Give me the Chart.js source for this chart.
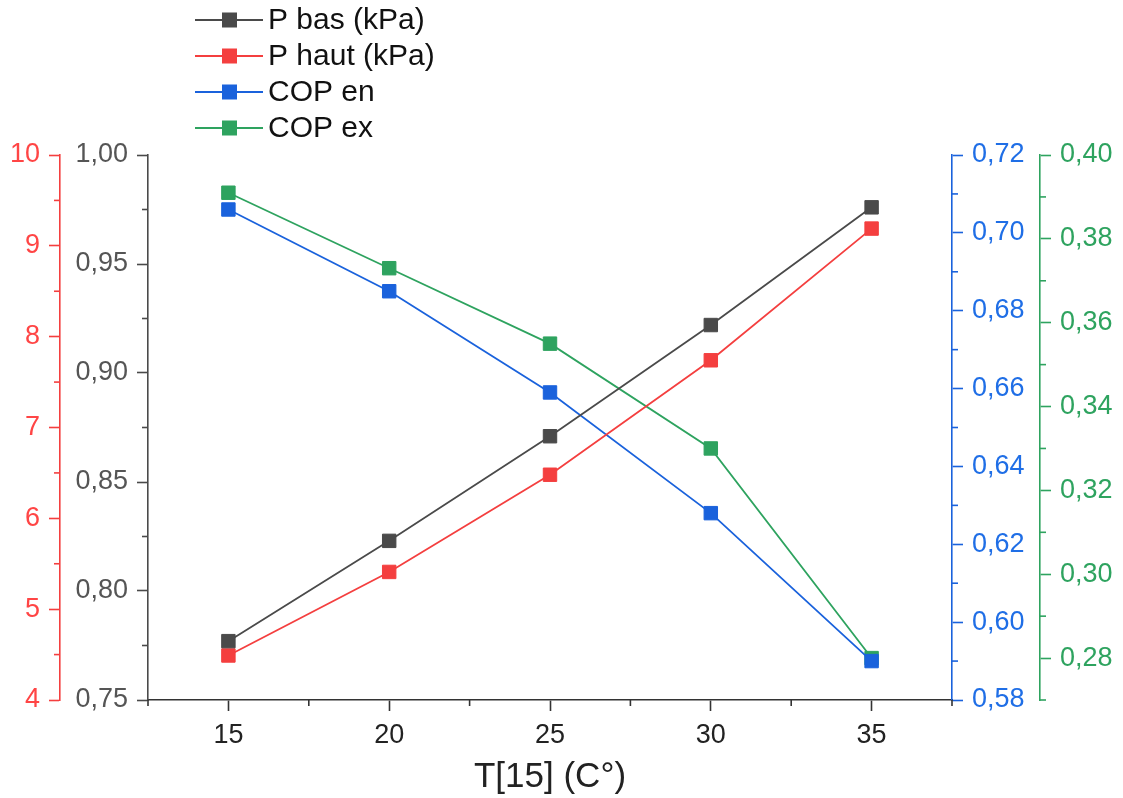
<!DOCTYPE html>
<html>
<head>
<meta charset="utf-8">
<script src="https://cdn.jsdelivr.net/npm/chart.js@4.4.1/dist/chart.umd.min.js"></script>
<style>
  html, body { margin: 0; padding: 0; background: #fff; }
</style>
</head>
<body>
<canvas id="chart" width="1123" height="798"></canvas>
<script>
// data
var temps = [15, 20, 25, 30, 35];
var pBas = [0.777, 0.823, 0.871, 0.922, 0.976];
var pHaut = [4.49, 5.41, 6.48, 7.74, 9.19];
var copEn = [0.706, 0.685, 0.659, 0.628, 0.590];
var copEx = [0.391, 0.373, 0.355, 0.330, 0.280];

var seriesNames = ['P bas (kPa)', 'P haut (kPa)', 'COP en', 'COP ex'];

// tick labels (major) and minor tick positions
var xTicks = [15, 20, 25, 30, 35];
var xMinor = [12.5, 17.5, 22.5, 27.5, 32.5, 37.5];
var basTicks = [0.75, 0.80, 0.85, 0.90, 0.95, 1.00];
var basMinor = [0.775, 0.825, 0.875, 0.925, 0.975];
var hautTicks = [4, 5, 6, 7, 8, 9, 10];
var hautMinor = [4.5, 5.5, 6.5, 7.5, 8.5, 9.5];
var enTicks = [0.58, 0.60, 0.62, 0.64, 0.66, 0.68, 0.70, 0.72];
var enMinor = [0.59, 0.61, 0.63, 0.65, 0.67, 0.69, 0.71];
var exTicks = [0.28, 0.30, 0.32, 0.34, 0.36, 0.38, 0.40];
var exMinor = [0.27, 0.29, 0.31, 0.33, 0.35, 0.37, 0.39];

var colors = {
  bas: '#4a4a4a',
  haut: '#f43f3f',
  en: '#1a62dc',
  ex: '#2ea35f'
};

Chart.defaults.font.family = "'Liberation Sans', Arial, sans-serif";

function pts(ys) {
  return temps.map(function (t, i) { return { x: t, y: ys[i] }; });
}

function comma(d) {
  return function (v) { return v.toFixed(d).replace('.', ','); };
}

function setTicks(list) {
  return function (scale) {
    scale.ticks = list.map(function (v) { return { value: v }; });
  };
}

function dataset(label, ys, color, axis) {
  return {
    label: label,
    data: pts(ys),
    yAxisID: axis,
    borderColor: color,
    backgroundColor: color,
    borderWidth: 1.8,
    pointStyle: 'rect',
    pointRadius: 9.5,
    pointHoverRadius: 9.5,
    pointBorderWidth: 1,
    pointBorderColor: color,
    pointBackgroundColor: color,
    tension: 0
  };
}

function yAxis(pos, weight, min, max, width, list, color, labelColor, dec) {
  return {
    type: 'linear',
    position: pos,
    weight: weight,
    min: min,
    max: max,
    afterBuildTicks: setTicks(list),
    afterFit: function (s) { s.width = width; },
    border: { color: color, width: 1.6 },
    grid: { drawOnChartArea: false, tickLength: 11, color: color, tickWidth: 1.6 },
    ticks: { color: labelColor, font: { size: 27 }, padding: 9, callback: comma(dec) }
  };
}

// short minor ticks, drawn from the scales' own pixel mapping
var minorTicks = {
  id: 'minorTicks',
  afterDraw: function (chart) {
    var ctx = chart.ctx;
    var spec = [
      ['x', xMinor, '#333'],
      ['yH', hautMinor, colors.haut],
      ['yB', basMinor, '#4a4a4a'],
      ['yE', enMinor, colors.en],
      ['yX', exMinor, colors.ex]
    ];
    ctx.save();
    ctx.lineWidth = 1.6;
    spec.forEach(function (s) {
      var sc = chart.scales[s[0]];
      ctx.strokeStyle = s[2];
      s[1].forEach(function (v) {
        var p = sc.getPixelForValue(v);
        ctx.beginPath();
        if (s[0] === 'x') {
          ctx.moveTo(p, sc.top); ctx.lineTo(p, sc.top + 6);
        } else if (sc.position === 'left') {
          ctx.moveTo(sc.right, p); ctx.lineTo(sc.right - 6, p);
        } else {
          ctx.moveTo(sc.left, p); ctx.lineTo(sc.left + 6, p);
        }
        ctx.stroke();
      });
    });
    ctx.restore();
  }
};

// legend: line sample with a square marker, stacked vertically
var lineLegend = {
  id: 'lineLegend',
  afterDraw: function (chart) {
    var ctx = chart.ctx;
    ctx.save();
    ctx.font = "30px 'Liberation Sans', Arial, sans-serif";
    ctx.textBaseline = 'middle';
    chart.data.datasets.forEach(function (ds, i) {
      var y = 20 + i * 36;
      ctx.strokeStyle = ds.borderColor;
      ctx.lineWidth = 1.8;
      ctx.beginPath();
      ctx.moveTo(195, y); ctx.lineTo(263, y);
      ctx.stroke();
      ctx.fillStyle = ds.borderColor;
      ctx.fillRect(222, y - 7.5, 15, 15);
      ctx.fillStyle = '#111';
      ctx.fillText(ds.label, 268, y + 1);
    });
    ctx.restore();
  }
};

new Chart(document.getElementById('chart'), {
  type: 'line',
  data: {
    datasets: [
      dataset(seriesNames[0], pBas, colors.bas, 'yB'),
      dataset(seriesNames[1], pHaut, colors.haut, 'yH'),
      dataset(seriesNames[2], copEn, colors.en, 'yE'),
      dataset(seriesNames[3], copEx, colors.ex, 'yX')
    ]
  },
  options: {
    responsive: false,
    devicePixelRatio: 1,
    animation: false,
    layout: { padding: { top: 155, left: 0, right: 0, bottom: 0 } },
    plugins: { legend: { display: false }, tooltip: { enabled: false } },
    scales: {
      x: {
        type: 'linear',
        position: 'bottom',
        min: 12.5,
        max: 37.5,
        afterBuildTicks: setTicks(xTicks),
        afterFit: function (s) { s.height = 98; },
        border: { color: '#333', width: 1.6 },
        grid: { drawOnChartArea: false, tickLength: 11, color: '#333', tickWidth: 1.6 },
        ticks: { color: '#222', font: { size: 27 }, padding: 8, maxRotation: 0 },
        title: { display: true, text: 'T[15] (C°)', color: '#222', font: { size: 35 }, padding: { top: 0, bottom: 0 } }
      },
      yH: yAxis('left', 1, 4, 10, 60, hautTicks, colors.haut, '#ff4545', 0),
      yB: yAxis('left', 0, 0.75, 1.00, 88, basTicks, '#4a4a4a', '#555', 2),
      yE: yAxis('right', 0, 0.58, 0.72, 88, enTicks, colors.en, '#1f6ee6', 2),
      yX: yAxis('right', 1, 0.27, 0.40, 83, exTicks, colors.ex, '#2ea35f', 2)
    }
  },
  plugins: [minorTicks, lineLegend]
});
</script>
</body>
</html>
